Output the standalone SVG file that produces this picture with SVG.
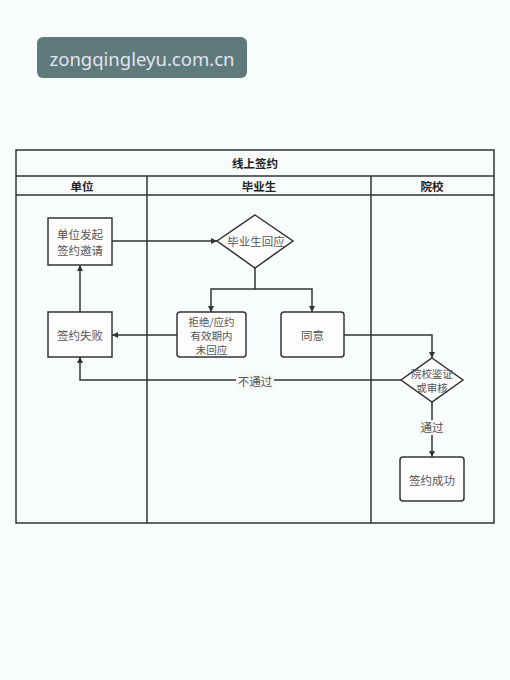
<svg xmlns="http://www.w3.org/2000/svg" width="510" height="680" viewBox="0 0 510 680">
<style>
.t{font-family:"Noto Sans CJK SC","Liberation Sans",sans-serif;font-size:11.5px;fill:#555;text-anchor:middle;dominant-baseline:central}
.s{font-size:10.5px}
.h{font-family:"Noto Sans CJK SC","Liberation Sans",sans-serif;font-size:11.5px;font-weight:bold;fill:#222;text-anchor:middle;dominant-baseline:central}
.box{fill:#fdfdfd;stroke:#333;stroke-width:1.5}
.ln{fill:none;stroke:#333;stroke-width:1.5}
.c{fill:none;stroke:#333;stroke-width:1.5;marker-end:url(#ah)}
</style>
<defs>
<marker id="ah" viewBox="0 0 10 10" refX="10" refY="5" markerWidth="6" markerHeight="6" orient="auto" markerUnits="userSpaceOnUse">
<path d="M0,0 L10,5 L0,10 z" fill="#333"/>
</marker>
</defs>
<rect width="510" height="680" fill="#f9fcfc"/>
<g id="badge">
<rect x="37" y="37" width="210" height="41" rx="6" fill="#5e7a7a"/>
<text x="142" y="58" font-family="'Noto Sans','DejaVu Sans',sans-serif" font-size="18.5" fill="#e2e4f0" text-anchor="middle" dominant-baseline="central">zongqingleyu.com.cn</text>
</g>
<g id="pool">
<rect x="16" y="150" width="478" height="373" fill="#f5f7f9" class="ln"/>
<line x1="16" y1="176" x2="494" y2="176" class="ln"/>
<line x1="16" y1="195" x2="494" y2="195" class="ln"/>
<line x1="147" y1="176" x2="147" y2="523" class="ln"/>
<line x1="371" y1="176" x2="371" y2="523" class="ln"/>
<text x="255" y="163" class="h">线上签约</text>
<text x="82" y="186" class="h">单位</text>
<text x="259" y="186" class="h">毕业生</text>
<text x="432" y="186" class="h">院校</text>
</g>
<g id="connectors">
<line x1="112" y1="241" x2="217" y2="241" class="c"/>
<path d="M255,268 V289 H211 V312" class="c"/>
<path d="M255,289 H312 V312" class="c"/>
<line x1="177" y1="335" x2="112" y2="335" class="c"/>
<line x1="80" y1="312" x2="80" y2="265" class="c"/>
<path d="M344,335 H432 V358" class="c"/>
<path d="M401,380 H80 V357" class="c"/>
<line x1="432" y1="402" x2="432" y2="457" class="c"/>
<rect x="236" y="373" width="38" height="15" fill="#f5f7f9"/>
<text x="255" y="380.5" class="t">不通过</text>
<rect x="419" y="420" width="26" height="15" fill="#f5f7f9"/>
<text x="432" y="427" class="t">通过</text>
</g>
<g id="n_start">
<rect x="48" y="218" width="64" height="47" class="box"/>
<text x="80" y="234" class="t">单位发起</text>
<text x="80" y="250" class="t">签约邀请</text>
</g>
<g id="n_respond">
<polygon points="255,215 293,241 255,268 217,241" class="box"/>
<text x="256" y="241" class="t">毕业生回应</text>
</g>
<g id="n_reject">
<rect x="177" y="312" width="69" height="45" rx="3" class="box"/>
<text x="211.5" y="321" class="t s">拒绝/应约</text>
<text x="211.5" y="335" class="t s">有效期内</text>
<text x="211.5" y="349" class="t s">未回应</text>
</g>
<g id="n_fail">
<rect x="48" y="312" width="64" height="45" class="box"/>
<text x="80" y="335" class="t">签约失败</text>
</g>
<g id="n_agree">
<rect x="281" y="312" width="63" height="45" rx="3" class="box"/>
<text x="312.5" y="335" class="t">同意</text>
</g>
<g id="n_verify">
<polygon points="432,358 463,380 432,402 401,380" class="box"/>
<text x="432" y="373" class="t s">院校鉴证</text>
<text x="432" y="387" class="t s">或审核</text>
</g>
<g id="n_success">
<rect x="400" y="457" width="64" height="44" rx="3" class="box"/>
<text x="432" y="480" class="t">签约成功</text>
</g>
</svg>
